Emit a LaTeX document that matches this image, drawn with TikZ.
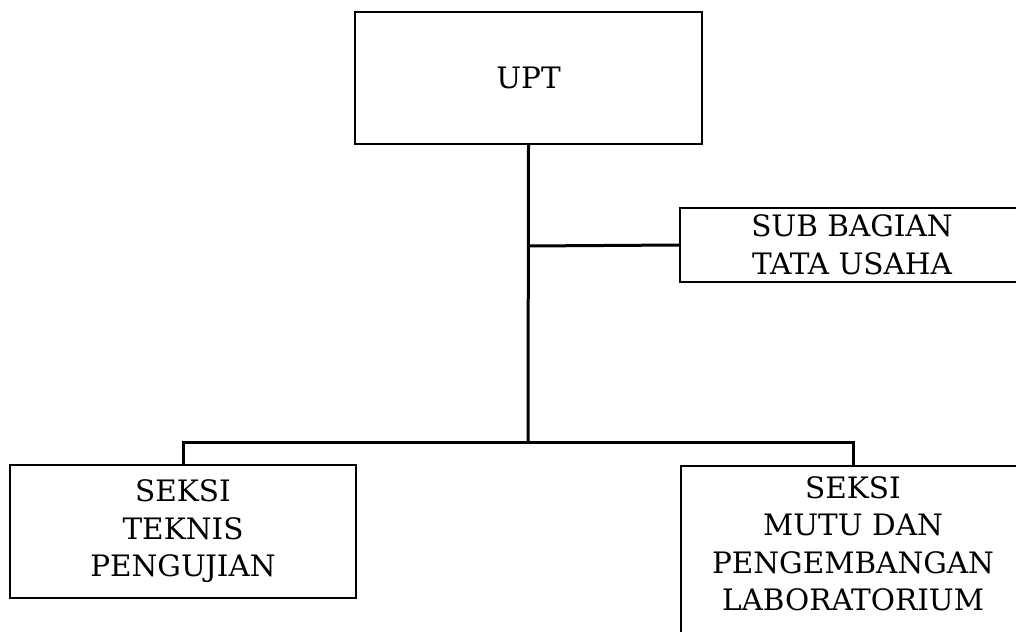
\documentclass[tikz,border=0pt]{standalone}
\usepackage{fontspec}
\setmainfont{DejaVu Serif}
\begin{document}
\begin{tikzpicture}[x=1pt,y=-1pt,
  box/.style={draw=black,line width=1.6pt,inner sep=0pt},
  txt/.style={align=center,font=\fontsize{29.5}{37.5}\selectfont,inner sep=0pt},
  conn/.style={draw=black,line width=3pt}]
\clip (0,0) rectangle (1016,631);
\useasboundingbox (0,0) rectangle (1016,631);
\fill[white] (0,0) rectangle (1016,631);
% boxes
\node[box,txt,minimum width=347pt,minimum height=132pt] (upt) at (528.5,78) {UPT};
\node[box,txt,minimum width=344pt,minimum height=74pt] (sub) at (852,245) {SUB BAGIAN\\TATA USAHA};
\node[box,txt,minimum width=346pt,minimum height=133pt] (left) at (183,531.5) {SEKSI\\TEKNIS\\PENGUJIAN};
\node[box,minimum width=344pt,minimum height=190pt,anchor=north] (right) at (853,465) {};
\node[txt,anchor=north] (righttext) at (853,476) {SEKSI\\MUTU DAN\\PENGEMBANGAN\\LABORATORIUM};
% connectors
\coordinate (j1) at (528,246);
\coordinate (j2) at (528,442);
\draw[conn] (upt.south) -- (j2);
\draw[conn] (j1) -- (sub.west);
\draw[conn] (left.north) |- (j2) -| (right.north);
\end{tikzpicture}
\end{document}
